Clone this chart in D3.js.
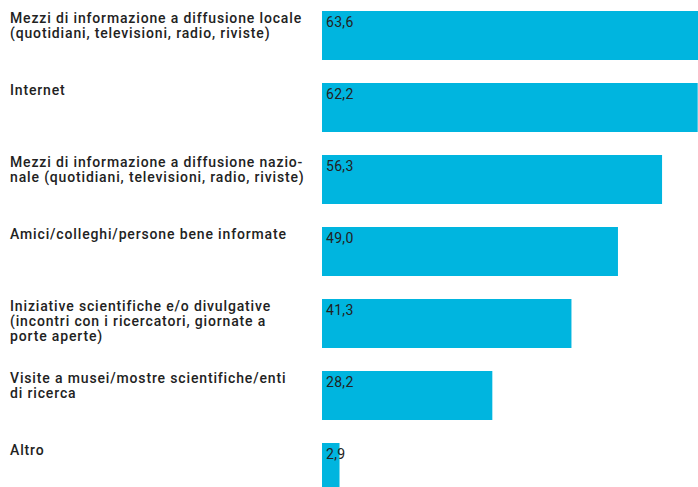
<!DOCTYPE html>
<html>
<head>
<meta charset="utf-8">
<script src="https://cdn.jsdelivr.net/npm/d3@7"></script>
<style>
  body { margin: 0; background: #fff; }
  svg { display: block; }
</style>
</head>
<body>
<div id="chart"></div>
<script>
// categories, one array of lines per label
var categories = [
    ["Mezzi di informazione a diffusione locale", "(quotidiani, televisioni, radio, riviste)"],
    ["Internet"],
    ["Mezzi di informazione a diffusione nazio-", "nale (quotidiani, televisioni, radio, riviste)"],
    ["Amici/colleghi/persone bene informate"],
    ["Iniziative scientifiche e/o divulgative", "(incontri con i ricercatori, giornate a", "porte aperte)"],
    ["Visite a musei/mostre scientifiche/enti", "di ricerca"],
    ["Altro"]
];
var values = [63.6, 62.2, 56.3, 49.0, 41.3, 28.2, 2.9];

var width = 698
var height = 487

var svg = d3.select("#chart")
    .append("svg")
    .attr("width", width)
    .attr("height", height)

var itLocale = d3.formatLocale({decimal: ",", thousands: ".", grouping: [3], currency: ["", " €"]})
var fmt = itLocale.format(".1f")

var x = d3.scaleLinear()
    .domain([0, 100])
    .range([322, 322 + 604])

var y = d3.scaleBand()
    .domain(d3.range(values.length))
    .range([11, 492])
    .paddingInner(23 / 72)
    .paddingOuter(0)

// bars
svg.selectAll("rect.bar")
    .data(values)
    .enter()
    .append("rect")
    .attr("class", "bar")
    .attr("x", x(0))
    .attr("y", function (d, i) { return y(i) })
    .attr("width", function (d) { return x(d) - x(0) })
    .attr("height", y.bandwidth())
    .attr("fill", "#00b5df")

// value labels inside bars
svg.selectAll("text.val")
    .data(values)
    .enter()
    .append("text")
    .attr("class", "val")
    .attr("x", x(0) + 4)
    .attr("y", function (d, i) { return y(i) + 16 })
    .text(function (d) { return fmt(d) })
    .style("font-family", "Roboto, sans-serif")
    .style("font-size", "14px")
    .style("letter-spacing", "0.3px")
    .style("fill", "#222")

// category labels
var labels = svg.selectAll("text.cat")
    .data(categories)
    .enter()
    .append("text")
    .attr("class", "cat")
    .attr("x", 10)
    .attr("y", function (d, i) { return y(i) + 11.5 })
    .style("font-family", "Roboto, sans-serif")
    .style("font-size", "14px")
    .style("font-weight", 500)
    .style("letter-spacing", "0.85px")
    .style("fill", "#222")

labels.selectAll("tspan")
    .data(function (d) { return d })
    .enter()
    .append("tspan")
    .attr("x", 10)
    .attr("dy", function (d, i) { return i == 0 ? 0 : 15 })
    .text(function (d) { return d })
</script>
</body>
</html>
